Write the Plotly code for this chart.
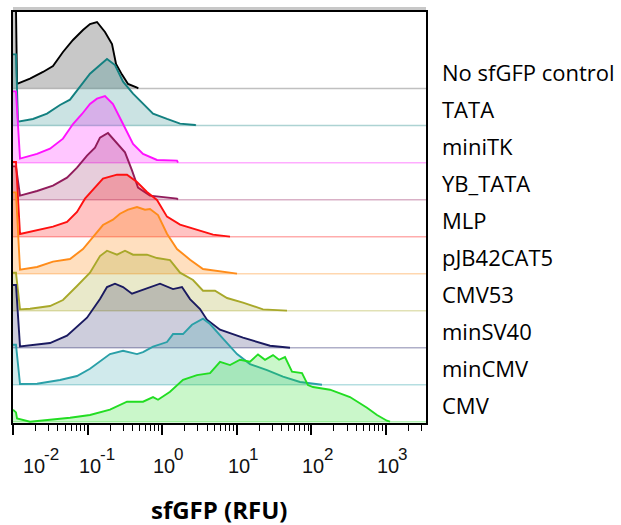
import numpy as np
import plotly.graph_objects as go

# ---------------- data ----------------
# x: log10(sfGFP RFU); y: count as % of mode
names = ["No sfGFP control", "TATA", "miniTK", "YB_TATA", "MLP",
         "pJB42CAT5", "CMV53", "minSV40", "minCMV", "CMV"]

ctrl_x = [-2.00, -1.96, -1.946, -1.772, -1.598, -1.464, -1.330, -1.196, -1.062, -0.968,
          -0.874, -0.767, -0.673, -0.619, -0.539, -0.458, -0.338, -0.320]
ctrl_y = [120, 120, 7, 15, 25, 34, 55, 73, 88, 97, 100, 85, 67, 37, 21, 7, 1.5, 0]

tata_x = [-2.00, -1.96, -1.933, -1.732, -1.544, -1.370, -1.236, -1.102, -0.968, -0.834,
          -0.740, -0.633, -0.525, -0.391, -0.257, -0.123, 0.064, 0.239, 0.440, 0.450]
tata_y = [107, 107, 6, 10, 18, 31, 39, 58, 78, 91, 100, 91, 66, 48, 33, 18, 10, 3, 1, 0]

minitk_x = [-2.00, -1.96, -1.906, -1.678, -1.504, -1.330, -1.196, -1.075, -0.968, -0.874,
            -0.767, -0.660, -0.525, -0.391, -0.257, -0.070, 0.198, 0.212]
minitk_y = [107, 107, 6, 13, 21, 36, 58, 73, 88, 96, 100, 88, 58, 28, 13, 4, 3, 0]

ybtata_x = [-2.00, -1.96, -1.906, -1.678, -1.464, -1.276, -1.142, -1.008, -0.901, -0.834,
            -0.727, -0.606, -0.499, -0.405, -0.324, -0.164, 0.064, 0.198, 0.210]
ybtata_y = [50, 50, 6, 13, 21, 33, 48, 66, 78, 93, 100, 85, 71, 44, 18, 6, 3, 1.5, 0]

mlp_x = [-2.00, -1.96, -1.906, -1.678, -1.464, -1.276, -1.142, -1.035, -0.928, -0.794,
         -0.606, -0.472, -0.338, -0.204, -0.070, 0.064, 0.239, 0.466, 0.681, 0.909]
mlp_y = [112, 112, 4, 10, 15, 22, 37, 57, 70, 87, 93, 93, 82, 67, 55, 30, 18, 10, 3, 0]

pjb_x = [-2.00, -1.96, -1.906, -1.678, -1.464, -1.236, -1.062, -0.928, -0.794, -0.660,
         -0.566, -0.458, -0.338, -0.231, -0.164, -0.056, 0.064, 0.198, 0.373, 0.547,
         0.775, 1.003]
pjb_y = [122, 122, 6, 10, 18, 22, 37, 55, 73, 81, 90, 96, 100, 96, 97, 88, 60, 37, 21, 7, 3, 0]

cmv53_x = [-2.00, -1.96, -1.906, -1.772, -1.504, -1.330, -1.142, -0.968, -0.834, -0.740,
           -0.606, -0.499, -0.391, -0.204, -0.070, 0.105, 0.239, 0.413, 0.547, 0.708,
           0.869, 1.083, 1.351, 1.673]
cmv53_y = [57, 57, 2, 3, 7, 16, 37, 57, 82, 90, 84, 90, 84, 84, 79, 76, 57, 46, 30, 30,
           19, 12, 2, 0]

sv40_x = [-2.00, -1.96, -1.906, -1.504, -1.276, -1.008, -0.834, -0.740, -0.633, -0.525,
          -0.405, -0.257, -0.029, 0.145, 0.265, 0.373, 0.507, 0.600, 0.775, 1.083,
          1.445, 1.713]
sv40_y = [94, 94, 2, 7, 18, 45, 73, 91, 96, 91, 81, 87, 96, 88, 91, 73, 58, 42, 27, 15, 3, 0]

mincmv_x = [-2.00, -1.96, -1.906, -1.678, -1.370, -1.142, -0.968, -0.794, -0.700, -0.525,
            -0.338, -0.257, -0.123, 0.064, 0.145, 0.279, 0.399, 0.547, 0.641, 0.815,
            1.003, 1.177, 1.405, 1.619, 1.847, 2.142]
mincmv_y = [60, 60, 1, 1.5, 7, 13, 24, 39, 46, 51, 46, 49, 57, 64, 76, 76, 90, 99, 91, 69,
            46, 31, 22, 12, 4, 0]

cmv_x = [-2.00, -1.96, -1.946, -1.772, -1.236, -0.968, -0.700, -0.472, -0.257, -0.123,
         -0.056, 0.105, 0.279, 0.466, 0.641, 0.775, 0.909, 1.043, 1.177, 1.284, 1.378,
         1.485, 1.566, 1.646, 1.740, 1.874, 1.954, 2.021, 2.249, 2.517, 2.745, 2.879,
         3.013, 3.054]
cmv_y = [18, 14, 5, 0, 6, 10, 18, 30, 30, 37, 33, 45, 63, 70, 73, 90, 85, 93, 90, 101, 93,
         100, 93, 97, 75, 73, 55, 52, 48, 37, 21, 10, 1.5, 0]

series_x = [ctrl_x, tata_x, minitk_x, ybtata_x, mlp_x, pjb_x, cmv53_x, sv40_x, mincmv_x, cmv_x]
series_y = [ctrl_y, tata_y, minitk_y, ybtata_y, mlp_y, pjb_y, cmv53_y, sv40_y, mincmv_y, cmv_y]

decades = [-2, -1, 0, 1, 2, 3]

# ---------------- style ----------------
line_rgb = [(0, 0, 0), (19, 128, 128), (255, 16, 255), (145, 28, 92), (255, 16, 16),
            (255, 140, 26), (168, 168, 42), (26, 26, 96), (42, 160, 168), (34, 221, 34)]
fill_alpha = [0.21, 0.22, 0.24, 0.22, 0.25, 0.28, 0.25, 0.22, 0.22, 0.24]
X_MIN, X_MAX = -2.0, 3.536
Y_MIN, Y_MAX = -0.035, 11.07
RIDGE = 1.8 / 100.0   # ridge height (row units) per % of mode

fig = go.Figure()
n = len(names)
for i in range(n):
    base = n - 1 - i
    r, g, b = line_rgb[i]
    if i == 0:
        fc = "rgba(140,140,140,0.48)"
        bc = "rgba(150,150,150,0.6)"
    else:
        fc = f"rgba({r},{g},{b},{fill_alpha[i]})"
        bc = f"rgba({r},{g},{b},0.35)"
    fig.add_trace(go.Scatter(
        x=[10 ** X_MIN, 10 ** X_MAX], y=[base, base], mode="lines",
        line=dict(color=bc, width=1.5), hoverinfo="skip", showlegend=False))
    xs = 10 ** np.array(series_x[i], dtype=float)
    ys = base + np.array(series_y[i], dtype=float) * RIDGE
    fig.add_trace(go.Scatter(
        x=xs, y=ys, mode="lines", name=names[i],
        line=dict(color=f"rgb({r},{g},{b})", width=1.9),
        fill="tonexty", fillcolor=fc, showlegend=False))

minor_vals = [k * 10.0 ** d for d in range(-2, 4) for k in range(2, 10)
              if np.log10(k * 10.0 ** d) <= X_MAX]

fig.update_xaxes(
    type="log", range=[X_MIN, X_MAX], showgrid=False, zeroline=False,
    showline=True, linecolor="black", linewidth=2, mirror=True,
    tickmode="array", tickvals=[10.0 ** d for d in decades],
    ticks="outside", ticklen=10, tickwidth=2, tickcolor="black",
    showticklabels=False,
    minor=dict(tickmode="array", tickvals=minor_vals, ticks="outside",
               ticklen=6, tickwidth=1, tickcolor="black", showgrid=False))
fig.update_yaxes(
    range=[Y_MIN, Y_MAX], showgrid=False, zeroline=False, showticklabels=False,
    ticks="", showline=True, linecolor="black", linewidth=2, mirror=True)

ann = []
for i in range(n):
    base = n - 1 - i
    ann.append(dict(x=1, xref="paper", xanchor="left", xshift=14,
                    y=base + 0.45, yref="y", yanchor="middle",
                    text=names[i], showarrow=False,
                    font=dict(family="Open Sans", size=22, color="black")))
BASE_W = 22.2   # width of "10" at 20px
for d in decades:
    x0 = 8 if d == decades[0] else -BASE_W / 2
    ann.append(dict(x=d, xref="x", xanchor="left", xshift=x0,
                    y=0, yref="paper", yanchor="top", yshift=-30,
                    text="10", showarrow=False,
                    font=dict(family="Liberation Sans", size=20, color="#111")))
    ann.append(dict(x=d, xref="x", xanchor="left", xshift=x0 + BASE_W - 1,
                    y=0, yref="paper", yanchor="top", yshift=-20,
                    text=str(d), showarrow=False,
                    font=dict(family="Liberation Sans", size=17, color="#111")))
ann.append(dict(x=0.5, xref="paper", xanchor="center", y=0, yref="paper",
                yanchor="top", yshift=-68, text="<b>sfGFP (RFU)</b>", showarrow=False,
                font=dict(family="Open Sans", size=24, color="black")))

fig.update_layout(
    width=621, height=525, margin=dict(l=13, r=195, t=10, b=102),
    paper_bgcolor="white", plot_bgcolor="white", annotations=ann,
    shapes=[dict(type="rect", xref="paper", x0=0, x1=1, yref="paper",
                 ysizemode="pixel", yanchor=1, y0=2, y1=5,
                 fillcolor="#c8c8c8", line=dict(width=0), layer="below")])

fig.write_html("out.html", config={"displayModeBar": False},
               post_script="document.body.style.margin='0';document.body.style.overflow='hidden';")
